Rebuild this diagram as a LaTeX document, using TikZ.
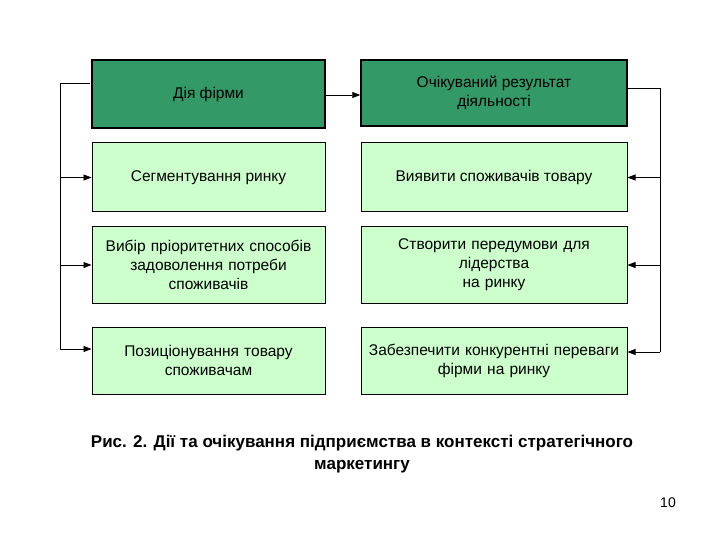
\documentclass[tikz,border=0pt]{standalone}
\usepackage{fontspec}
\setmainfont{Liberation Sans}
\usetikzlibrary{arrows.meta}
\definecolor{dg}{HTML}{339966}
\definecolor{lg}{HTML}{CCFFCC}
\begin{document}
\begin{tikzpicture}[x=1pt,y=-1pt,
  hdr/.style={draw=black,line width=1.5pt,fill=dg,align=center,font=\fontsize{15.5}{19}\selectfont},
  bx/.style={draw=black,line width=1pt,fill=lg,align=center,inner xsep=1pt,font=\fontsize{15.5}{19}\selectfont},
  arr/.style={-{Triangle[length=8pt,width=6pt]},line width=0.8pt},
  ln/.style={line width=0.8pt}]
\useasboundingbox (0,0) rectangle (720,540);
\node[hdr,minimum width=233,minimum height=68] (h1) at (208.5,94) {Дія фірми};
\node[hdr,minimum width=266,minimum height=66] (h2) at (494,93) {Очікуваний результат\\діяльності};
\node[bx,minimum width=233,minimum height=69] (a1) at (208.5,177.5) {Сегментування ринку};
\node[bx,minimum width=266,minimum height=69] (b1) at (494,177.5) {Виявити споживачів товару};
\node[bx,minimum width=233,minimum height=76,text width=229] (a2) at (208.5,265) {Вибір пріоритетних способів\\задоволення потреби\\споживачів};
\node[bx,minimum width=266,minimum height=76,text width=262] (b2) at (494,265) {Створити передумови для\\лідерства\\на ринку};
\node[bx,minimum width=233,minimum height=67,text width=229] (a3) at (208.5,360.5) {Позиціонування товару\\споживачам\\[18pt]};
\node[bx,minimum width=266,minimum height=67,text width=262] (b3) at (494,360.5) {Забезпечити конкурентні переваги\\фірми на ринку\\[18pt]};
\coordinate (L0) at (60,83);
\coordinate (L1) at (60,349);
\coordinate (R0) at (660,88);
\coordinate (R1) at (660,352);
\coordinate (M) at (325,95);
\draw[arr] (M) -- (h2.west |- M);
\draw[ln] (90,83) -- (L0) -- (L1);
\draw[arr] (L0 |- a1.west) -- (a1.west);
\draw[arr] (L0 |- a2.west) -- (a2.west);
\draw[arr] (L1) -- (a3.west |- L1);
\draw[ln] (h2.east |- R0) -- (R0) -- (R1);
\draw[arr] (R0 |- b1.east) -- (b1.east);
\draw[arr] (R0 |- b2.east) -- (b2.east);
\draw[arr] (R1) -- (b3.east |- R1);
\node[font=\bfseries\fontsize{17}{22}\selectfont,align=center] (cap) at (362,454) {Рис. 2. Дії та очікування підприємства в контексті стратегічного\\маркетингу};
\node[font=\fontsize{14}{16}\selectfont] (pg) at (668,503) {10};
\end{tikzpicture}
\end{document}
